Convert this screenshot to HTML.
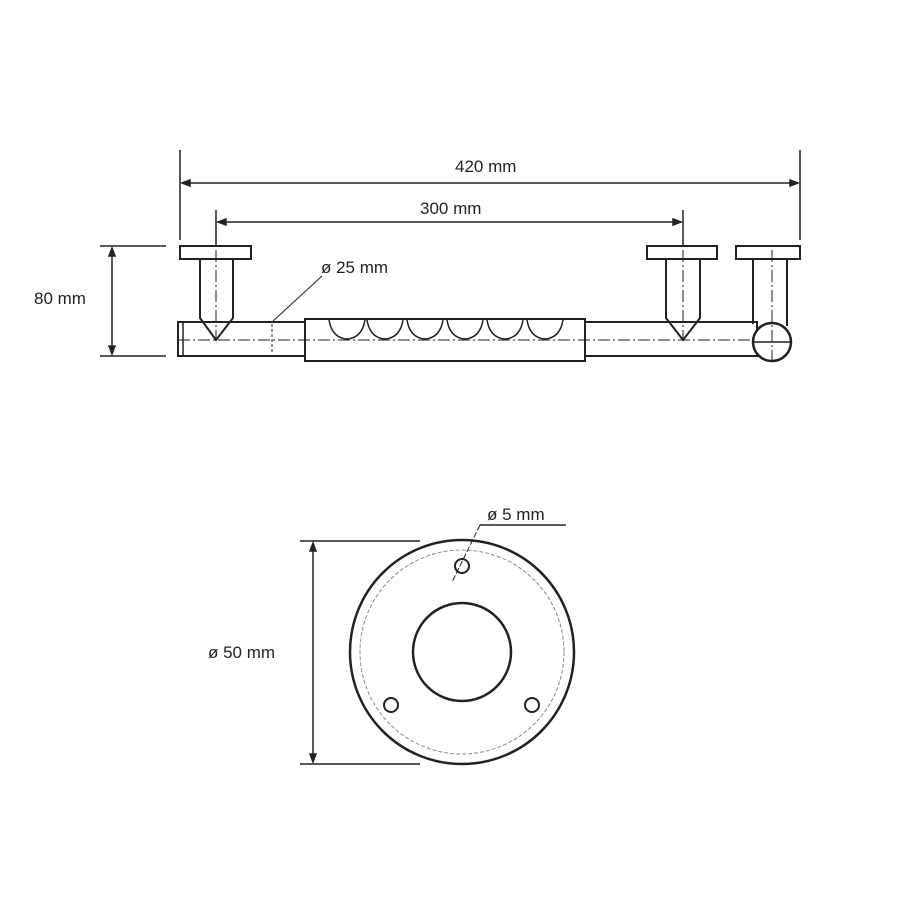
<!DOCTYPE html>
<html><head><style>body{margin:0;background:#fff}svg{display:block}text{font-family:"Liberation Sans",sans-serif;font-size:17px;fill:#222}</style></head><body>
<svg width="900" height="900" viewBox="0 0 900 900" xmlns="http://www.w3.org/2000/svg">
<g stroke="#222" fill="none" stroke-width="1.5">
<!-- 420 dim -->
<line x1="180" y1="150" x2="180" y2="240"/><line x1="800" y1="150" x2="800" y2="240"/>
<line x1="182" y1="183" x2="798" y2="183"/>
<path d="M182 183l8-3v6zM798 183l-8-3v6z" fill="#222"/>
<!-- 300 dim -->
<line x1="216" y1="210" x2="216" y2="245"/><line x1="683" y1="210" x2="683" y2="245"/>
<line x1="218" y1="222" x2="681" y2="222"/>
<path d="M218 222l8-3v6zM681 222l-8-3v6z" fill="#222"/>
<!-- 80 dim -->
<line x1="100" y1="246" x2="166" y2="246"/><line x1="100" y1="356" x2="166" y2="356"/>
<line x1="112" y1="248" x2="112" y2="354"/>
<path d="M112 248l-3 8h6zM112 354l-3-8h6z" fill="#222"/>
<!-- tube -->
<rect x="178" y="322" width="127" height="34" stroke-width="2"/>
<line x1="183" y1="322" x2="183" y2="356"/>
<rect x="305" y="319" width="280" height="42" stroke-width="2"/>
<rect x="585" y="322" width="172" height="34" stroke-width="2"/>
<!-- scallops -->
<g stroke-width="1.5">
<path d="M329 320q3 18 18 19q15-1 18-19M367 320q3 18 18 19q15-1 18-19M407 320q3 18 18 19q15-1 18-19M447 320q3 18 18 19q15-1 18-19M487 320q3 18 18 19q15-1 18-19M527 320q3 18 18 19q15-1 18-19"/>
</g>
<!-- left post -->
<rect x="180" y="246" width="71" height="13" stroke-width="2" fill="#fff"/>
<path d="M200 259V318L216 340L233 318V259" stroke-width="2"/>
<!-- right post -->
<rect x="647" y="246" width="70" height="13" stroke-width="2" fill="#fff"/>
<path d="M666 259V318L683 340L700 318V259" stroke-width="2"/>
<!-- end post -->
<rect x="736" y="246" width="64" height="13" stroke-width="2" fill="#fff"/>
<path d="M753 259V324M787 259V326" stroke-width="2"/>
<circle cx="772" cy="342" r="19" stroke-width="2.5" fill="#fff"/>
<line x1="753" y1="342" x2="791" y2="342"/>
<!-- center lines -->
<g stroke-width="1" stroke-dasharray="12 3 2 3">
<line x1="178" y1="340" x2="753" y2="340"/>
<line x1="216" y1="250" x2="216" y2="338"/>
<line x1="683" y1="250" x2="683" y2="338"/>
<line x1="772" y1="250" x2="772" y2="362"/>
</g>
<!-- 25 leader -->
<line x1="272" y1="322" x2="322" y2="276" stroke-width="1"/>
<line x1="272" y1="324" x2="272" y2="354" stroke-width="1" stroke-dasharray="3 2"/>
<!-- bottom view -->
<line x1="300" y1="541" x2="420" y2="541"/><line x1="300" y1="764" x2="420" y2="764"/>
<line x1="313" y1="543" x2="313" y2="762"/>
<path d="M313 543l-3 8h6zM313 762l-3-8h6z" fill="#222"/>
<circle cx="462" cy="652" r="112" stroke-width="2.5"/>
<circle cx="462" cy="652" r="102" stroke-width="1" stroke="#888" stroke-dasharray="4 2"/>
<circle cx="462" cy="652" r="49" stroke-width="2.5"/>
<circle cx="462" cy="566" r="7" stroke-width="2"/>
<circle cx="391" cy="705" r="7" stroke-width="2"/>
<circle cx="532" cy="705" r="7" stroke-width="2"/>
<line x1="480" y1="525" x2="566" y2="525"/>
<line x1="480" y1="525" x2="452" y2="582" stroke-width="1" stroke-dasharray="6 2"/>
</g>
<text x="455" y="172">420 mm</text>
<text x="420" y="214">300 mm</text>
<text x="34" y="304">80 mm</text>
<text x="321" y="273">ø 25 mm</text>
<text x="487" y="520">ø 5 mm</text>
<text x="208" y="658">ø 50 mm</text>
</svg>
</body></html>
